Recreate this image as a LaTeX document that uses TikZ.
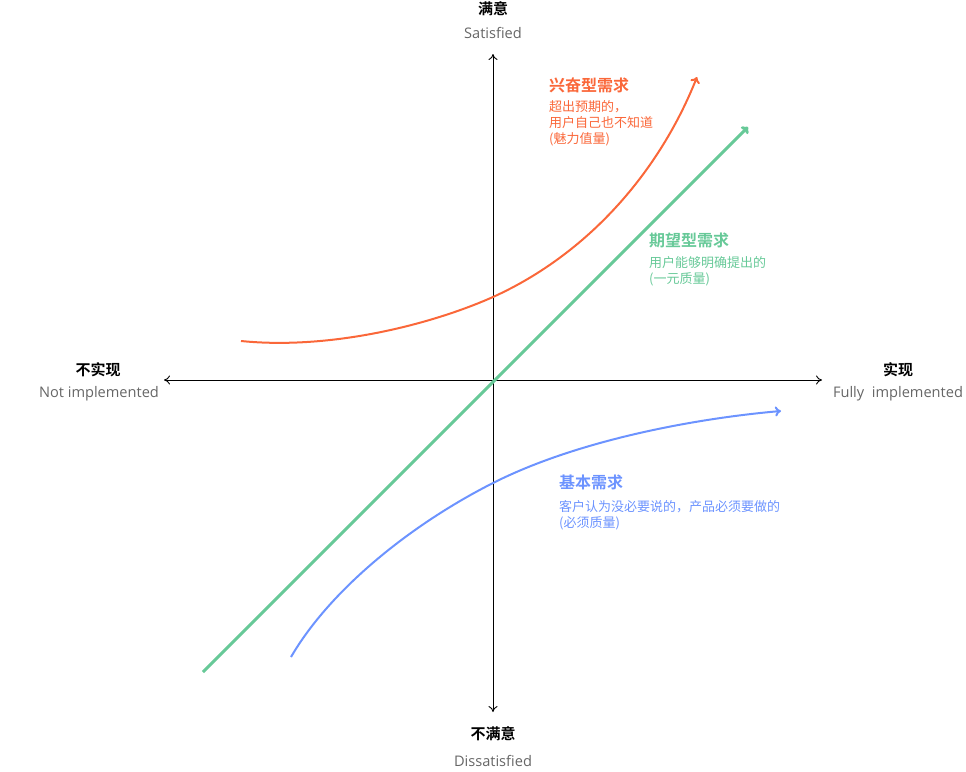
\documentclass[tikz,border=0pt]{standalone}
\usepackage{fontspec}
\setmainfont{Open Sans}
\newfontfamily\cjk{Noto Sans CJK SC}
\newfontfamily\cjkb{Noto Sans CJK SC Bold}
\usetikzlibrary{arrows.meta}
\definecolor{korange}{HTML}{FA6739}
\definecolor{kgreen}{HTML}{67C998}
\definecolor{kblue}{HTML}{6C93FF}
\definecolor{kgray}{HTML}{666666}
\tikzset{
  axisline/.style={draw=black, line width=0.9pt, {To[length=6pt,width=9pt]}-{To[length=6pt,width=9pt]}},
  curveline/.style={line width=2pt, -{To[length=6pt,width=10pt]}},
  axtitle/.style={inner sep=0pt, font=\cjkb\fontsize{15}{18}\selectfont, text=black},
  axsub/.style={inner sep=0pt, font=\fontsize{14.6}{17}\selectfont, text=kgray},
  ktitle/.style={inner sep=0pt, anchor=west, font=\cjkb\fontsize{16}{19}\selectfont},
  kdesc/.style={inner sep=0pt, anchor=west, align=left, font=\cjk\fontsize{13}{16}\selectfont},
}
\begin{document}
\begin{tikzpicture}[x=1pt,y=-1pt]
\useasboundingbox (0,0) rectangle (966,771);
% axes
\coordinate (top) at (493,54);
\coordinate (bot) at (493,712);
\coordinate (lft) at (164,380);
\coordinate (rgt) at (822,380);
\draw[axisline] (bot) -- (top);
\draw[axisline] (lft) -- (rgt);
% axis labels
\node[axtitle] (sat) at (493,9) {满意};
\node[axsub] (satE) at (493,33) {Satisfied};
\node[axtitle] (dis) at (493,734) {不满意};
\node[axsub] (disE) at (493,761) {Dissatisfied};
\node[axtitle] (notimp) at (98,370) {不实现};
\node[axsub] (notimpE) at (99,394) {Not implemented};
\node[axtitle] (imp) at (898,370) {实现};
\node[axsub] (impE) at (898,394) {Fully\ \ implemented};
% green line
\coordinate (gs) at (203,672);
\coordinate (ge) at (748,127);
\draw[kgreen, line width=3pt, -{To[length=6pt,width=10pt]}] (gs) -- (ge);
% orange curve
\coordinate (os) at (241,341);
\coordinate (om) at (493,297);
\coordinate (oe) at (697,77);
\draw[korange, curveline] (os) .. controls (330,350) and (430,325) .. (om)
  .. controls (590,253) and (660,170) .. (oe);
% blue curve
\coordinate (bs) at (291,657);
\coordinate (bm) at (493,483);
\coordinate (be) at (781,411);
\draw[kblue, curveline] (bs) .. controls (330,590) and (410,525) .. (bm)
  .. controls (580,439) and (700,418) .. (be);
% labels
\node[ktitle, text=korange] (ot) at (549,85) {兴奋型需求};
\node[kdesc, text=korange] (od) at (549,123) {超出预期的，\\用户自己也不知道\\(魅力值量)};
\node[ktitle, text=kgreen] (gt) at (649,240) {期望型需求};
\node[kdesc, text=kgreen] (gd) at (649,271) {用户能够明确提出的\\(一元质量)};
\node[ktitle, text=kblue] (bt) at (559,482) {基本需求};
\node[kdesc, text=kblue] (bd) at (559,515) {客户认为没必要说的，产品必须要做的\\(必须质量)};
\end{tikzpicture}
\end{document}
